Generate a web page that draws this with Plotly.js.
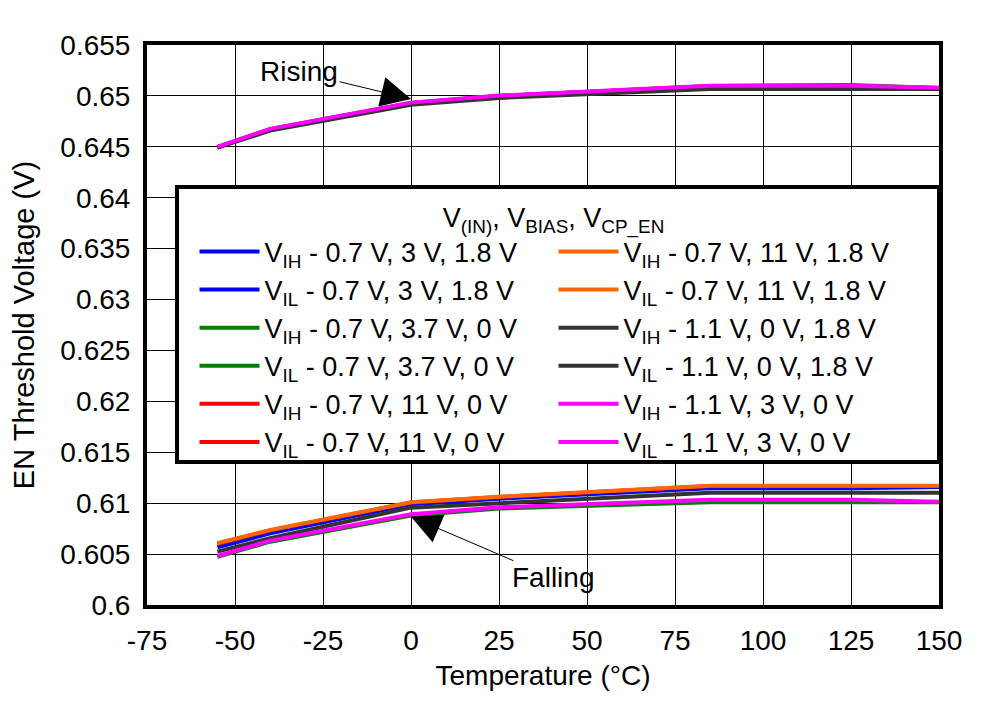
<!DOCTYPE html>
<html>
<head>
<meta charset="utf-8">
<script src="https://cdn.plot.ly/plotly-3.0.1.min.js"></script>
<style>html,body{margin:0;padding:0;background:#fff;}#chart{width:988px;height:701px;}</style>
</head>
<body>
<div id="chart"></div>
<script>
// Temperature (°C)
const temperature = [-55, -40, 0, 25, 85, 125, 150];

// Rising thresholds (VIH)
const vih_07_3_18   = [0.64495, 0.64670, 0.64928, 0.64997, 0.65094, 0.65094, 0.65076];
const vih_07_37_0   = [0.64497, 0.64672, 0.64930, 0.64999, 0.65098, 0.65108, 0.65078];
const vih_07_11_0   = [0.64496, 0.64671, 0.64929, 0.64998, 0.65096, 0.65096, 0.65077];
const vih_07_11_18  = [0.64495, 0.64670, 0.64928, 0.64997, 0.65094, 0.65094, 0.65076];
const vih_11_0_18   = [0.64492, 0.64660, 0.64912, 0.64980, 0.65068, 0.65068, 0.65068];
const vih_11_3_0    = [0.64500, 0.64676, 0.64934, 0.65003, 0.65100, 0.65100, 0.65080];

// Falling thresholds (VIL)
const vil_07_3_18   = [0.60567, 0.60704, 0.60989, 0.61044, 0.61146, 0.61146, 0.61160];
const vil_07_37_0   = [0.60472, 0.60622, 0.60878, 0.60948, 0.61009, 0.61009, 0.61009];
const vil_07_11_0   = [0.60602, 0.60733, 0.61006, 0.61061, 0.61168, 0.61168, 0.61168];
const vil_07_11_18  = [0.60606, 0.60737, 0.61009, 0.61064, 0.61172, 0.61172, 0.61172];
const vil_11_0_18   = [0.60524, 0.60655, 0.60956, 0.60999, 0.61103, 0.61103, 0.61103];
const vil_11_3_0    = [0.60481, 0.60632, 0.60891, 0.60960, 0.61034, 0.61034, 0.61015];

const seriesNames = [
  'V<sub>IH</sub> - 0.7 V, 3 V, 1.8 V',
  'V<sub>IL</sub> - 0.7 V, 3 V, 1.8 V',
  'V<sub>IH</sub> - 0.7 V, 3.7 V, 0 V',
  'V<sub>IL</sub> - 0.7 V, 3.7 V, 0 V',
  'V<sub>IH</sub> - 0.7 V, 11 V, 0 V',
  'V<sub>IL</sub> - 0.7 V, 11 V, 0 V',
  'V<sub>IH</sub> - 0.7 V, 11 V, 1.8 V',
  'V<sub>IL</sub> - 0.7 V, 11 V, 1.8 V',
  'V<sub>IH</sub> - 1.1 V, 0 V, 1.8 V',
  'V<sub>IL</sub> - 1.1 V, 0 V, 1.8 V',
  'V<sub>IH</sub> - 1.1 V, 3 V, 0 V',
  'V<sub>IL</sub> - 1.1 V, 3 V, 0 V'
];
const seriesData = [vih_07_3_18, vil_07_3_18, vih_07_37_0, vil_07_37_0, vih_07_11_0, vil_07_11_0,
                    vih_07_11_18, vil_07_11_18, vih_11_0_18, vil_11_0_18, vih_11_3_0, vil_11_3_0];
const seriesColors = ['#0000FF', '#0000FF', '#008000', '#008000', '#FF0000', '#FF0000',
                      '#FF6600', '#FF6600', '#333333', '#333333', '#FF00FF', '#FF00FF'];
// legend laid out in two columns (row-major ranks)
const legendRanks = [1, 3, 5, 7, 9, 11, 2, 4, 6, 8, 10, 12];

const xTicks = [-75, -50, -25, 0, 25, 50, 75, 100, 125, 150];
const yTicks = [0.6, 0.605, 0.61, 0.615, 0.62, 0.625, 0.63, 0.635, 0.64, 0.645, 0.65, 0.655];
const yTickText = ['0.6', '0.605', '0.61', '0.615', '0.62', '0.625', '0.63', '0.635', '0.64', '0.645', '0.65', '0.655'];

const FONT = 'Arial, "Liberation Sans", sans-serif';

const traces = seriesData.map((y, i) => ({
  x: temperature,
  y: y,
  type: 'scatter',
  mode: 'lines',
  name: seriesNames[i],
  legendrank: legendRanks[i],
  line: {color: seriesColors[i], width: 4}
}));

const layout = {
  width: 988,
  height: 701,
  margin: {l: 147, r: 49, t: 45, b: 96},
  paper_bgcolor: '#fff',
  plot_bgcolor: '#fff',
  font: {family: FONT, size: 29, color: '#000'},
  showlegend: true,
  xaxis: {
    range: [-75, 150],
    tickvals: xTicks,
    ticktext: xTicks.map(String),
    showgrid: true,
    gridcolor: '#000',
    gridwidth: 1,
    zeroline: false,
    showline: true,
    mirror: true,
    linecolor: '#000',
    linewidth: 4,
    ticks: '',
    ticklabelstandoff: 7,
    tickfont: {family: FONT, size: 28},
    title: {text: 'Temperature (°C)', font: {family: FONT, size: 28}, standoff: 12}
  },
  yaxis: {
    range: [0.6, 0.655],
    tickvals: yTicks,
    ticktext: yTickText,
    showgrid: true,
    gridcolor: '#000',
    gridwidth: 1,
    zeroline: false,
    showline: true,
    mirror: true,
    linecolor: '#000',
    linewidth: 4,
    ticks: '',
    ticklabelstandoff: 7,
    tickfont: {family: FONT, size: 28},
    title: {text: 'EN Threshold Voltage (V)', font: {family: FONT, size: 29}, standoff: 18}
  },
  legend: {
    orientation: 'h',
    x: 0.06,
    xanchor: 'left',
    y: 0.737,
    yanchor: 'top',
    bgcolor: 'rgba(0,0,0,0)',
    borderwidth: 0,
    entrywidth: 284,
    entrywidthmode: 'pixels',
    itemwidth: 60,
    indentation: 0,
    tracegroupgap: 0,
    font: {family: FONT, size: 27, color: '#000'},
    title: {text: 'V<sub>(IN)</sub>, V<sub>BIAS</sub>, V<sub>CP_EN</sub>', side: 'top center', font: {family: FONT, size: 27}}
  },
  shapes: [{
    type: 'rect', xref: 'paper', yref: 'paper',
    x0: 0.0379, x1: 1, y0: 0.2554, y1: 0.7464,
    line: {color: '#000', width: 4},
    fillcolor: '#fff',
    layer: 'above'
  }],
  annotations: [
    {
      x: 0, y: 0.6497, xref: 'x', yref: 'y',
      text: 'Rising', showarrow: true,
      ax: -112, ay: -27,
      arrowhead: 2, arrowsize: 6, arrowwidth: 1, arrowcolor: '#000',
      font: {family: FONT, size: 28, color: '#000'}
    },
    {
      x: 0, y: 0.60867, xref: 'x', yref: 'y',
      text: 'Falling', showarrow: true,
      ax: 142, ay: 61,
      arrowhead: 2, arrowsize: 6, arrowwidth: 1, arrowcolor: '#000',
      font: {family: FONT, size: 28, color: '#000'}
    }
  ]
};

Plotly.newPlot('chart', traces, layout, {displayModeBar: false, staticPlot: true});
</script>
</body>
</html>
